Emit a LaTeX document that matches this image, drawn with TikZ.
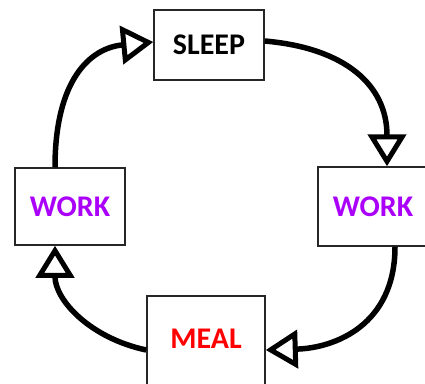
\documentclass[tikz,border=0pt]{standalone}
\usepackage{fontspec}
\setmainfont{Carlito}
\usetikzlibrary{arrows.meta}
\definecolor{workpurple}{RGB}{170,0,250}
\definecolor{mealred}{RGB}{255,0,0}

\begin{document}
\begin{tikzpicture}[x=1pt, y=-1pt, % 1px = 1pt, y down
  box/.style={draw=black!85, line width=1.5pt, inner sep=0pt, font=\fontsize{30}{32}\selectfont\bfseries},
  flow/.style={line width=5.5pt, -{Triangle[open, length=32pt, width=38pt, line width=5pt]}}]
  \useasboundingbox (0,0) rectangle (425,383); % margins of the picture
  \clip (0,0) rectangle (425,383);

  \node[box, minimum width=110pt, minimum height=70pt] (sleep) at (209,45) {SLEEP}; % top
  \node[box, minimum width=110pt, minimum height=77pt, text=workpurple] (workL) at (70,206.5) {WORK}; % left
  \node[box, minimum width=110pt, minimum height=79pt, text=workpurple] (workR) at (373,206.5) {WORK}; % right, cut off by the edge
  \node[box, anchor=north, text width=118pt, align=center, text height=53pt, text depth=50pt, text=mealred] (meal) at (206,295) {MEAL}; % bottom, cut off by the edge

  \draw[flow] ([xshift=-15pt]workL.north) .. controls (55,80) and (90,48) .. ([yshift=3pt]sleep.west); % work -> sleep
  \draw[flow] ([yshift=4pt]sleep.east) .. controls (345,48) and (387,85) .. ([xshift=14pt]workR.north); % sleep -> work
  \draw[flow] ([xshift=22pt]workR.south) .. controls (395,325) and (335,348) .. (meal.east |- 0,350); % work -> meal
  \draw[flow] (meal.west |- 0,350) .. controls (90,338) and (55,300) .. ([xshift=-15pt]workL.south); % meal -> work
\end{tikzpicture}
\end{document}
